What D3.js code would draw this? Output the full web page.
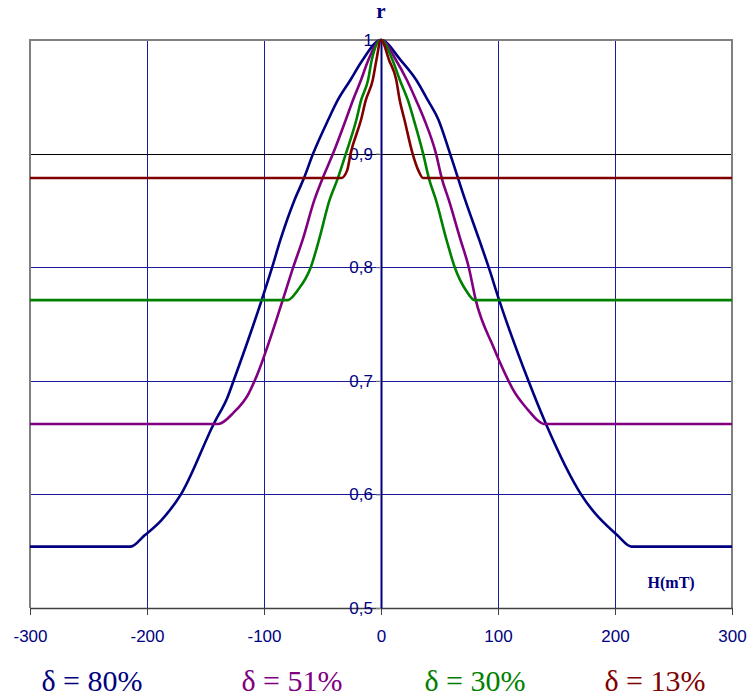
<!DOCTYPE html>
<html>
<head>
<meta charset="utf-8">
<script src="https://cdn.jsdelivr.net/npm/d3@7"></script>
<style>
  body { margin: 0; background: #fff; }
  svg { display: block; }
</style>
</head>
<body>
<div id="chart"></div>
<script>
// field values H (mT) and reflectance r
let h80 = [-300, -214, -202, -188, -171, -143, -131, -126, -102, -93, -86, -74, -66, -58, -45, -37, -26, -16, 0,
  17, 30, 40, 49, 59, 72, 84, 92, 101, 126, 141, 171, 202, 214, 300];
let r80 = [0.554, 0.554, 0.564, 0.577, 0.6, 0.662, 0.686, 0.7, 0.771, 0.8, 0.824, 0.859, 0.878, 0.9, 0.93, 0.947, 0.965, 0.982, 1,
  0.982, 0.965, 0.947, 0.93, 0.9, 0.859, 0.824, 0.8, 0.771, 0.7, 0.662, 0.6, 0.564, 0.554, 0.554];

let h51 = [-300, -139, -126, -113, -108, -84, -75, -67, -57, -50, -41, -30, -24, -17, -11, 0,
  13, 22, 30, 37, 47, 52, 58, 68, 75, 81, 96, 109, 113, 126, 134, 139, 300];
let r51 = [0.662, 0.662, 0.672, 0.689, 0.7, 0.771, 0.8, 0.824, 0.859, 0.878, 0.9, 0.93, 0.947, 0.965, 0.982, 1,
  0.982, 0.965, 0.947, 0.93, 0.9, 0.878, 0.859, 0.824, 0.8, 0.771, 0.73, 0.7, 0.692, 0.674, 0.665, 0.662, 0.662];

let h30 = [-300, -80, -71, -60, -53, -44, -37, -30, -21, -17, -11, -8, 0,
  10, 16, 23, 28, 36, 41, 47, 56, 63, 73, 80, 300];
let r30 = [0.771, 0.771, 0.78, 0.8, 0.824, 0.859, 0.878, 0.9, 0.93, 0.947, 0.965, 0.982, 1,
  0.982, 0.965, 0.947, 0.93, 0.9, 0.878, 0.859, 0.824, 0.8, 0.779, 0.771, 0.771];

let h13 = [-300, -34, -29, -26, -17, -13, -7, -4, 0, 7, 13, 16, 20, 27, 32, 36, 300];
let r13 = [0.8785, 0.8785, 0.885, 0.9, 0.93, 0.947, 0.965, 0.982, 1,
  0.982, 0.965, 0.947, 0.93, 0.9, 0.885, 0.8785, 0.8785];

let seriesNames = ["\u03b4 = 80%", "\u03b4 = 51%", "\u03b4 = 30%", "\u03b4 = 13%"];
let seriesColors = ["#000080", "#800080", "#008000", "#800000"];
let xTicks = [-300, -200, -100, 0, 100, 200, 300];
let yTicks = [0.5, 0.6, 0.7, 0.8, 0.9, 1];

let margin = { top: 40, right: 16, bottom: 92, left: 30 };
let W = 748, H = 700;
let w = W - margin.left - margin.right;
let h = H - margin.top - margin.bottom;

let svg = d3.select("#chart").append("svg")
  .attr("width", W)
  .attr("height", H);

let g = svg.append("g")
  .attr("transform", `translate(${margin.left}, ${margin.top})`);

let xs = d3.scaleLinear().domain([-300, 300]).range([0, w]);
let ys = d3.scaleLinear().domain([0.5, 1]).range([h, 0]);

// grid lines
g.selectAll(".vgrid")
  .data(xTicks.filter(d => d !== -300 && d !== 300 && d !== 0))
  .enter().append("line")
  .attr("x1", d => Math.round(xs(d)) + 0.5).attr("x2", d => Math.round(xs(d)) + 0.5)
  .attr("y1", 0).attr("y2", h)
  .attr("stroke", "#1a1a9a").attr("stroke-width", 1);

g.selectAll(".hgrid")
  .data(yTicks.filter(d => d !== 0.5 && d !== 1))
  .enter().append("line")
  .attr("x1", 0).attr("x2", w)
  .attr("y1", d => Math.round(ys(d)) + 0.5).attr("y2", d => Math.round(ys(d)) + 0.5)
  .attr("stroke", (d) => d === 0.9 ? "#000000" : "#1a1a9a").attr("stroke-width", 1);

// plot frame
g.append("path")
  .attr("d", `M0,${h}V0H${w}V${h}`)
  .attr("fill", "none")
  .attr("stroke", "#808080")
  .attr("stroke-width", 2);

// x axis at bottom
let xAxis = d3.axisBottom(xs).tickValues(xTicks).tickSize(7).tickSizeOuter(0)
  .tickFormat(d => String(d));
let gx = g.append("g")
  .attr("transform", `translate(0, ${h})`)
  .call(xAxis);
gx.select(".domain").attr("stroke", "#404040").attr("stroke-width", 1.5);
gx.selectAll(".tick line").attr("stroke", "#404040");
gx.selectAll(".tick text")
  .attr("fill", "#000080")
  .attr("font-family", "Liberation Sans, Arial, sans-serif")
  .attr("font-size", "17px")
  .attr("dy", "1.05em")
  .attr("y", 16);

// y axis in the middle
let yAxis = d3.axisLeft(ys).tickValues(yTicks).tickSize(5).tickSizeOuter(0)
  .tickFormat(d => d3.format(".1f")(d).replace(".", ",").replace(",0", ""));
let gy = g.append("g")
  .attr("transform", `translate(${xs(0)}, 0)`)
  .call(yAxis);
gy.select(".domain").attr("stroke", "#000080").attr("stroke-width", 2);
gy.selectAll(".tick line").attr("stroke", "#808080");
gy.selectAll(".tick text")
  .attr("fill", "#000080")
  .attr("font-family", "Liberation Sans, Arial, sans-serif")
  .attr("font-size", "17px")
  .attr("x", -8);

// curves
let allSeries = [
  h80.map((v, i) => [v, r80[i]]),
  h51.map((v, i) => [v, r51[i]]),
  h30.map((v, i) => [v, r30[i]]),
  h13.map((v, i) => [v, r13[i]])
];

let line = d3.line()
  .x(d => xs(d[0]))
  .y(d => ys(d[1]))
  .curve(d3.curveMonotoneX);

g.selectAll(".curve")
  .data(allSeries)
  .enter().append("path")
  .attr("d", line)
  .attr("fill", "none")
  .attr("stroke", (d, i) => seriesColors[i])
  .attr("stroke-width", 2.6)
  .attr("stroke-linejoin", "round");

// axis titles
g.append("text")
  .attr("x", xs(0))
  .attr("y", -22)
  .attr("text-anchor", "middle")
  .attr("font-family", "Liberation Serif, Times New Roman, serif")
  .attr("font-weight", "bold")
  .attr("font-size", "21px")
  .attr("fill", "#000080")
  .text("r");

g.append("text")
  .attr("x", xs(248))
  .attr("y", h - 20)
  .attr("text-anchor", "middle")
  .attr("font-family", "Liberation Serif, Times New Roman, serif")
  .attr("font-weight", "bold")
  .attr("font-size", "16px")
  .attr("fill", "#000080")
  .text("H(mT)");

// legend under the chart
let legendX = [92, 292, 475, 655];
svg.selectAll(".legend")
  .data(seriesNames)
  .enter().append("text")
  .attr("x", (d, i) => legendX[i])
  .attr("y", 691)
  .attr("text-anchor", "middle")
  .attr("font-family", "Liberation Serif, Times New Roman, serif")
  .attr("font-size", "30px")
  .attr("fill", (d, i) => seriesColors[i])
  .text(d => d);
</script>
</body>
</html>
